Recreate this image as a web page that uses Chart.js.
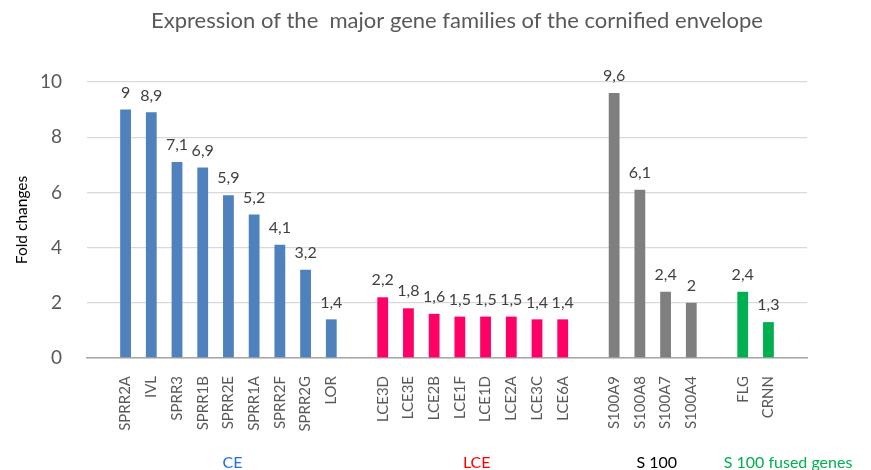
<!DOCTYPE html>
<html lang="en">
<head>
    <meta charset="UTF-8">
    <title>Cornified envelope gene families</title>
    <style>
        body { margin: 0; padding: 0; background: #fff; }
        .container { width: 871px; height: 470px; position: relative; }
    </style>
</head>
<body>
    <div class="container">
        <canvas id="myChart" width="871" height="470"></canvas>
    </div>

    <script src="https://cdn.jsdelivr.net/npm/chart.js"></script>
    <script>
        // data
        var ceGenes = ['SPRR2A', 'IVL', 'SPRR3', 'SPRR1B', 'SPRR2E', 'SPRR1A', 'SPRR2F', 'SPRR2G', 'LOR'];
        var ceValues = [9, 8.9, 7.1, 6.9, 5.9, 5.2, 4.1, 3.2, 1.4];
        var lceGenes = ['LCE3D', 'LCE3E', 'LCE2B', 'LCE1F', 'LCE1D', 'LCE2A', 'LCE3C', 'LCE6A'];
        var lceValues = [2.2, 1.8, 1.6, 1.5, 1.5, 1.5, 1.4, 1.4];
        var s100Genes = ['S100A9', 'S100A8', 'S100A7', 'S100A4'];
        var s100Values = [9.6, 6.1, 2.4, 2];
        var fusedGenes = ['FLG', 'CRNN'];
        var fusedValues = [2.4, 1.3];
        var groupNames = ['CE', 'LCE', 'S 100', 'S 100 fused genes'];
        var yTicks = [0, 2, 4, 6, 8, 10];
        var chartTitle = 'Expression of the  major gene families of the cornified envelope';

        var groups = [
            { genes: ceGenes, values: ceValues, bar: '#4F81BD', text: '#1F6FE8' },
            { genes: lceGenes, values: lceValues, bar: '#FF0066', text: '#FF0000' },
            { genes: s100Genes, values: s100Values, bar: '#7F7F7F', text: '#000000' },
            { genes: fusedGenes, values: fusedValues, bar: '#00B050', text: '#00B050' }
        ];

        // one empty slot before, between and after the groups
        var labels = [''];
        var values = [null];
        var colors = ['#fff'];
        var groupSpans = [];
        groups.forEach(function (g, gi) {
            var start = labels.length;
            g.genes.forEach(function (name, i) {
                labels.push(name);
                values.push(g.values[i]);
                colors.push(g.bar);
            });
            groupSpans.push([start, labels.length - 1]);
            labels.push('');
            values.push(null);
            colors.push('#fff');
        });

        var valueLabels = {
            id: 'valueLabels',
            afterDatasetsDraw: function (chart) {
                var ctx = chart.ctx;
                var meta = chart.getDatasetMeta(0);
                ctx.save();
                ctx.font = '16px Lato';
                ctx.fillStyle = '#404040';
                ctx.textAlign = 'center';
                ctx.textBaseline = 'bottom';
                meta.data.forEach(function (bar, i) {
                    var v = values[i];
                    if (v === null) return;
                    ctx.fillText(String(v).replace('.', ','), bar.x, bar.y - 9);
                });
                ctx.restore();
            }
        };

        // title + group names under the axis
        var extraText = {
            id: 'extraText',
            afterDraw: function (chart) {
                var ctx = chart.ctx;
                var xs = chart.scales.x;
                ctx.save();
                ctx.textBaseline = 'middle';
                ctx.textAlign = 'center';
                ctx.font = '22px Lato';
                ctx.fillStyle = '#595959';
                ctx.fillText(chartTitle, 457, 21);

                ctx.font = '16px Lato';
                groupSpans.forEach(function (span, gi) {
                    var a = xs.getPixelForValue(span[0]);
                    var b = xs.getPixelForValue(span[1]);
                    ctx.fillStyle = groups[gi].text;
                    if (gi === 3) {
                        ctx.textAlign = 'left';
                        ctx.fillText(groupNames[gi], a - 19, 463);
                    } else {
                        ctx.textAlign = 'center';
                        ctx.fillText(groupNames[gi], (a + b) / 2 + 4, 463);
                    }
                });
                ctx.restore();
            }
        };

        var ctx = document.getElementById('myChart').getContext('2d');
        var myChart = new Chart(ctx, {
            type: 'bar',
            data: {
                labels: labels,
                datasets: [{
                    label: 'Fold changes',
                    data: values,
                    backgroundColor: colors,
                    barPercentage: 0.42,
                    categoryPercentage: 1
                }]
            },
            options: {
                responsive: false,
                animation: false,
                layout: { padding: { left: 0, right: 64, top: 82, bottom: 0 } },
                plugins: {
                    legend: { display: false },
                    tooltip: { enabled: false },
                    title: { display: false }
                },
                scales: {
                    x: {
                        grid: { display: false },
                        border: { color: '#A6A6A6', width: 1.5 },
                        ticks: {
                            color: '#595959',
                            font: { family: 'Lato', size: 15 },
                            minRotation: 90,
                            maxRotation: 90,
                            autoSkip: false,
                            padding: 10
                        },
                        afterFit: function (scale) { scale.height = 112; }
                    },
                    y: {
                        min: 0,
                        max: 10,
                        border: { display: false },
                        grid: { color: '#D9D9D9', lineWidth: 1.3, drawTicks: false },
                        afterBuildTicks: function (scale) {
                            scale.ticks = yTicks.map(function (v) { return { value: v }; });
                        },
                        ticks: {
                            color: '#595959',
                            font: { family: 'Lato', size: 19 },
                            padding: 25
                        },
                        title: {
                            display: true,
                            text: 'Fold changes',
                            color: '#000000',
                            font: { family: 'Lato', size: 15.5 },
                            padding: { top: 13, bottom: 0 }
                        },
                        afterFit: function (scale) { scale.width = 87; }
                    }
                }
            },
            plugins: [valueLabels, extraText]
        });
    </script>
</body>
</html>
